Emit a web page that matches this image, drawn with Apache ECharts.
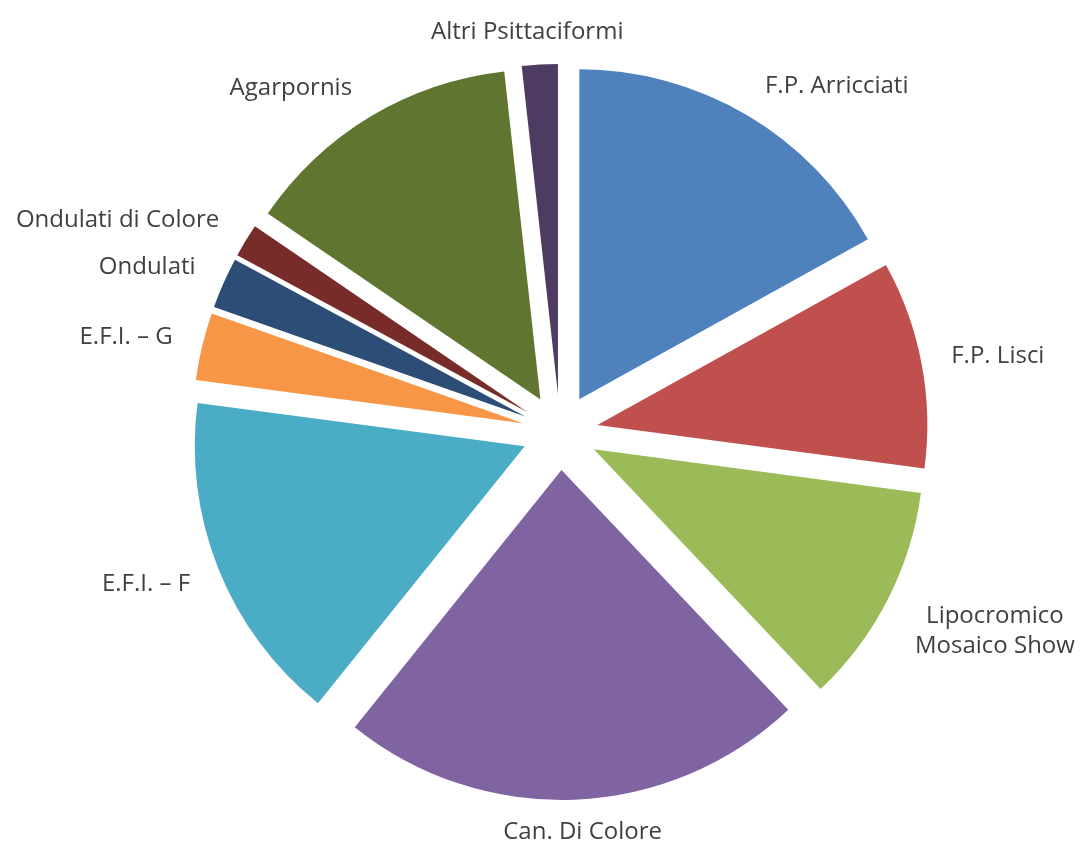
<!DOCTYPE html>
<html>
<head>
<meta charset="utf-8">
<script src="https://cdn.jsdelivr.net/npm/echarts@6/dist/echarts.min.js"></script>
<style>
html,body{margin:0;padding:0;background:#fff;}
#chart{width:1081px;height:851px;}
</style>
</head>
<body>
<div id="chart"></div>
<script>
const categories = [
  "F.P. Arricciati",
  "F.P. Lisci",
  "Lipocromico\nMosaico Show",
  "Can. Di Colore",
  "E.F.I. – F",
  "E.F.I. – G",
  "Ondulati",
  "Ondulati di Colore",
  "Agarpornis",
  "Altri Psittaciformi"
];
const values = [61.0, 36.6, 39.0, 82.2, 58.7, 11.9, 9.0, 5.9, 49.4, 6.3];
const colors = ["#4F81BD", "#C0504D", "#9BBB59", "#8064A2", "#4BACC6",
                "#F79646", "#2C4D75", "#772C2A", "#5F7530", "#4D3B62"];

// layout constants (pixels)
const CX = 560, CY = 432, R = 330, OFFSET = 38, LABEL_GAP = 24, K = 2;
const PAD_X = 6, PAD_Y = -7;

const total = values.reduce((a, b) => a + b, 0);
const cum = [];
values.reduce((acc, v, i) => { cum[i] = acc; return acc + v; }, 0);
const midAngle = i => (cum[i] + values[i] / 2) / total * 2 * Math.PI; // clockwise from 12 o'clock
const clamp = v => Math.max(-1, Math.min(1, v));

// one pie series per slice so each slice can be exploded along its own mid angle
const series = categories.map((name, s) => {
  const a = midAngle(s);
  const ux = Math.sin(a), uy = -Math.cos(a);
  const cx = CX + OFFSET * ux, cy = CY + OFFSET * uy;
  return {
    type: 'pie',
    center: [cx, cy],
    radius: R,
    startAngle: 90,
    clockwise: true,
    avoidLabelOverlap: false,
    silent: true,
    emphasis: {disabled: true},
    labelLine: {show: false},
    label: {
      show: true,
      position: 'outside',
      color: '#404040',
      fontFamily: 'Open Sans',
      fontSize: 24,
      lineHeight: 30,
      formatter: '{b}'
    },
    labelLayout: function (p) {
      const w = p.labelRect.width, h = p.labelRect.height;
      const d = R + LABEL_GAP;
      const ax = cx + ux * d, ay = cy + uy * d;
      return {
        x: ax + clamp(K * ux) * (w / 2 + PAD_X),
        y: ay + clamp(K * uy) * (h / 2 + PAD_Y),
        align: 'center',
        verticalAlign: 'middle'
      };
    },
    data: categories.map((c, i) => ({
      name: c,
      value: values[i],
      itemStyle: {color: i === s ? colors[i] : 'rgba(0,0,0,0)', borderWidth: 0},
      label: {show: i === s}
    }))
  };
});

const chart = echarts.init(document.getElementById('chart'));
chart.setOption({animation: false, series: series});
</script>
</body>
</html>
